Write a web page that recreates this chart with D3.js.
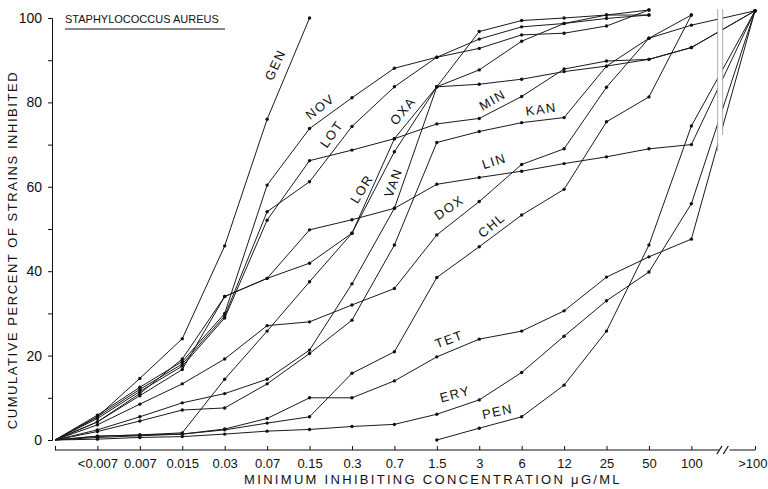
<!DOCTYPE html>
<html>
<head>
<meta charset="utf-8">
<title>Staphylococcus aureus</title>
<script src="https://d3js.org/d3.v7.min.js"></script>
<style>
  body { margin: 0; background: #fff; }
  text { font-family: "Liberation Sans", Arial, sans-serif; fill: #111; }
</style>
</head>
<body>
<script>
// categories on the x axis (index 0 is the unlabelled origin)
var xLabels = ["", "<0.007", "0.007", "0.015", "0.03", "0.07", "0.15", "0.3", "0.7",
               "1.5", "3", "6", "12", "25", "50", "100", ">100"];
var xIndex = [0, 1, 2, 3, 4, 5, 6, 7, 8, 9, 10, 11, 12, 13, 14, 15, 16.5];

// cumulative percent per category (null = no point)
var GEN = [0, 5.5, 14.6, 24, 46, 76, 100];
var NOV = [0, 5.9, 12.5, 18.6, 30, 60.4, 73.8, 81.1, 88.1, 90.7, 95, 97.9, 98.7, 100.7, 100.7];
var LOT = [0, 5.5, 12, 18, 29.4, 54.1, 61.2, 74.3, 83.7, 90.7, 92.8, 96, 96.4, 98.1, 101.9];
var OXA = [0, 4.3, 10.5, 16.7, 34, 38.3, 41.9, 49, 71.4, 83.7, 96.8, 99.4, 100, 100.7, 101.9];
var LOR = [0, 0.9, 1.2, 1.7, 14.4, 25.8, 37.5, 49, 68.3, 83.7, 84.3, 85.5, 87.3, 88.6, 90.2, 93, 101.7];
var VAN = [0, 2.4, 5.5, 8.8, 11, 14.4, 21.3, 37, 54.9, 83.7, 87.7, 94.5, 98.7, 99.9, 100.7];
var MIN = [0, 5.1, 11.5, 17.5, 28.9, 52.1, 66.2, 68.7, 71.4, 74.9, 76.2, 81.4, 87.9, 89.8, 90.2, 93, 101.7];
var KAN = [0, 2.0, 4.5, 7.1, 7.6, 13.3, 20.5, 28.4, 46.2, 70.5, 73.1, 75.2, 76.4, 88.6, 95.2, 98.3, 101.7];
var LIN = [0, 4.3, 11, 19.2, 34, 38.3, 49.8, 52.2, 54.9, 60.6, 62.2, 63.7, 65.5, 67.1, 69, 70, 101.7];
var DOX = [0, 3.6, 8.5, 13.3, 19.2, 27.1, 28, 32, 35.9, 48.6, 56.5, 65.3, 69, 83.6, 95.2, 100.7];
var CHL = [0, 0.6, 1.0, 1.4, 2.4, 4, 5.5, 15.8, 20.9, 38.5, 45.8, 53.3, 59.4, 75.4, 81.3, 100.7];
var TET = [0, 0.9, 1.2, 1.4, 2.6, 5.1, 10, 10, 14, 19.7, 23.9, 25.8, 30.6, 38.6, 43.4, 47.6, 101.7];
var ERY = [0, 0.2, 0.6, 0.8, 1.4, 2.1, 2.5, 3.2, 3.7, 6.1, 9.5, 16, 24.6, 33, 39.8, 56, 101.7];
var PEN = [null, null, null, null, null, null, null, null, null, 0, 2.8, 5.5, 13, 25.8, 46.2, 74.4, 101.7];

var seriesNames = ["GEN", "NOV", "LOT", "OXA", "LOR", "VAN", "MIN", "KAN", "LIN", "DOX", "CHL", "TET", "ERY", "PEN"];
var seriesValues = [GEN, NOV, LOT, OXA, LOR, VAN, MIN, KAN, LIN, DOX, CHL, TET, ERY, PEN];

// label anchor (category index, percent) and rotation for each series name
var labelPos = [[5.19, 88.9, -65], [6.25, 79, -38], [6.52, 72.5, -55], [8.2, 78, -50],
                [7.23, 59.5, -58], [7.97, 61, -70], [10.31, 80.6, -30], [11.46, 78.4, -8],
                [10.35, 66.1, -18], [9.29, 55.1, -35], [10.29, 50.9, -40], [9.29, 23.9, -20],
                [9.43, 10.9, -15], [10.43, 6.75, -12]];

var width = 768, height = 489;

var svg = d3.select("body").append("svg")
            .attr("width", width)
            .attr("height", height);

var x = d3.scaleLinear().domain([0, 16.5]).range([55, 755]);
var y = d3.scaleLinear().domain([0, 100]).range([440, 18]);

// y axis
var yAxis = svg.append("g")
               .attr("transform", "translate(52,0)")
               .call(d3.axisLeft(y)
                       .tickValues(d3.range(0, 101, 10))
                       .tickSize(4)
                       .tickPadding(6)
                       .tickFormat(function(d) { return d % 20 == 0 ? d : ""; }));
yAxis.selectAll("text").style("font-size", "14px");
yAxis.select(".domain").attr("stroke", "#111");
yAxis.selectAll(".tick line").attr("stroke", "#111");

// x axis, ticks point upwards, the line is drawn by hand because of the break
var xAxis = svg.append("g")
               .attr("transform", "translate(0,450)")
               .call(d3.axisBottom(x)
                       .tickValues(xIndex)
                       .tickSizeInner(-4)
                       .tickSizeOuter(0)
                       .tickPadding(9)
                       .tickFormat(function(d, i) { return xLabels[i]; }));
xAxis.select(".domain").remove();
xAxis.selectAll("text").style("font-size", "13px");
xAxis.selectAll("text").filter(function(d) { return d == 16.5; })
     .attr("text-anchor", "end").attr("dx", 12);
xAxis.selectAll(".tick line").attr("stroke", "#111");
xAxis.append("line").attr("x1", x(0)).attr("x2", x(15.65)).attr("stroke", "#111");
xAxis.append("line").attr("x1", x(15.9)).attr("x2", x(16.5)).attr("stroke", "#111");
xAxis.selectAll("path.brk")
     .data([15.65, 15.8])
     .enter().append("path")
     .attr("class", "brk")
     .attr("d", function(d) { return "M" + (x(d) - 2) + ",4L" + (x(d) + 3) + ",-4"; })
     .attr("stroke", "#111")
     .attr("stroke-width", 1.3);

// lines
var line = d3.line()
             .defined(function(d) { return d[1] != null; })
             .x(function(d) { return x(d[0]); })
             .y(function(d) { return y(d[1]); });

seriesValues.forEach(function(vals) {
    var pts = vals.map(function(v, i) { return [xIndex[i], v]; });
    svg.append("path")
       .datum(pts)
       .attr("d", line)
       .attr("fill", "none")
       .attr("stroke", "#1a1a1a")
       .attr("stroke-width", 1);
    svg.selectAll(null)
       .data(pts.filter(function(d) { return d[1] != null && d[0] > 0; }))
       .enter().append("circle")
       .attr("cx", function(d) { return x(d[0]); })
       .attr("cy", function(d) { return y(d[1]); })
       .attr("r", 1.7)
       .attr("fill", "#111");
});

// break in the plot between 100 and >100
svg.append("rect").attr("x", x(15.62)).attr("y", 9).attr("width", 5).attr("height", 142).attr("fill", "#fff");
svg.append("line").attr("x1", x(15.62)).attr("x2", x(15.62)).attr("y1", 9).attr("y2", 151)
   .attr("stroke", "#999").attr("stroke-width", 0.8);
svg.append("line").attr("x1", x(15.62) + 5).attr("x2", x(15.62) + 5).attr("y1", 9).attr("y2", 135)
   .attr("stroke", "#999").attr("stroke-width", 0.8);

// series names
seriesNames.forEach(function(name, i) {
    var p = labelPos[i];
    svg.append("text")
       .attr("transform", "translate(" + x(p[0]) + "," + y(p[1]) + ") rotate(" + p[2] + ")")
       .attr("text-anchor", "middle")
       .attr("dy", "0.35em")
       .style("font-size", "13px")
       .style("letter-spacing", "1.5px")
       .text(name);
});

// title
svg.append("text")
   .attr("x", 65).attr("y", 23)
   .style("font-size", "11px")
   .text("STAPHYLOCOCCUS AUREUS");
svg.append("line").attr("x1", 65).attr("x2", 225).attr("y1", 29).attr("y2", 29)
   .attr("stroke", "#111");

// axis titles
svg.append("text")
   .attr("transform", "translate(17,250) rotate(-90)")
   .attr("text-anchor", "middle")
   .style("font-size", "13px")
   .style("letter-spacing", "1.55px")
   .text("CUMULATIVE PERCENT OF STRAINS INHIBITED");
svg.append("text")
   .attr("x", 433).attr("y", 484)
   .attr("text-anchor", "middle")
   .style("font-size", "13px")
   .style("letter-spacing", "2.3px")
   .text("MINIMUM INHIBITING CONCENTRATION \u03bcG/ML");
</script>
</body>
</html>
